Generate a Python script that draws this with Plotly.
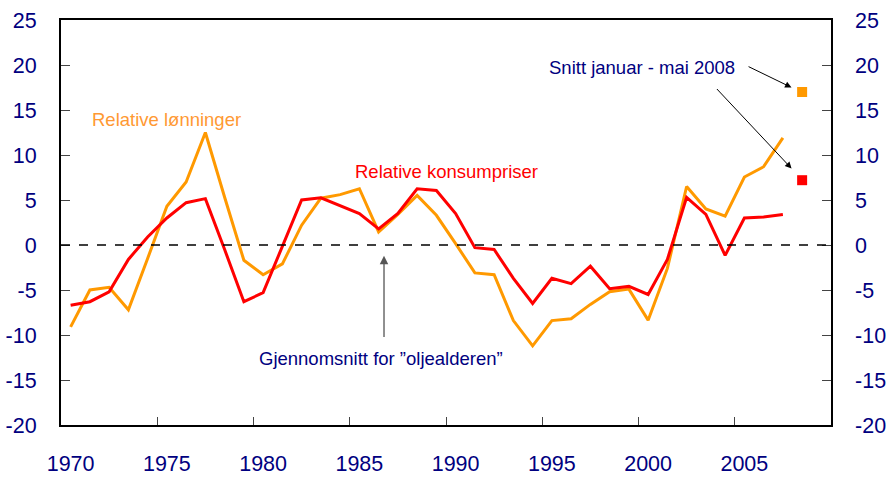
import plotly.graph_objects as go

years = list(range(1970, 2008))
relative_lonninger = [-9.1, -5.0, -4.7, -7.2, -1.5, 4.3, 7.0, 12.5, 5.3, -1.7,
                      -3.3, -2.1, 2.2, 5.2, 5.6, 6.25, 1.45, 3.4, 5.5, 3.3,
                      0.15, -3.1, -3.3, -8.4, -11.2, -8.4, -8.2, -6.6, -5.2, -4.9,
                      -8.35, -2.6, 6.5, 4.0, 3.2, 7.55, 8.7, 11.9]
relative_konsumpriser = [-6.7, -6.3, -5.2, -1.6, 0.9, 3.0, 4.7, 5.15, -0.5, -6.3,
                         -5.3, -0.1, 5.0, 5.25, 4.4, 3.5, 1.8, 3.5, 6.25, 6.05,
                         3.5, -0.3, -0.5, -3.7, -6.5, -3.7, -4.3, -2.35, -4.85, -4.6,
                         -5.5, -1.6, 5.3, 3.4, -1.15, 3.0, 3.1, 3.4]
snitt_year = [2008]
snitt_lonninger = [17.0]
snitt_konsumpriser = [7.2]

x_ticklabels = [1970, 1975, 1980, 1985, 1990, 1995, 2000, 2005]
y_ticks = list(range(-20, 30, 5))
y_ticktext = [str(v) for v in y_ticks]  # plain hyphen minus

ORANGE = "#FF9900"
RED = "#FF0000"
NAVY = "#000080"
FONT = "Liberation Sans, Arial, sans-serif"

fig = go.Figure()
fig.add_trace(go.Scatter(x=years, y=relative_lonninger, mode="lines",
                         line=dict(color=ORANGE, width=3), name="Relative lønninger"))
fig.add_trace(go.Scatter(x=years, y=relative_konsumpriser, mode="lines",
                         line=dict(color=RED, width=3), name="Relative konsumpriser"))
fig.add_trace(go.Scatter(x=snitt_year, y=snitt_lonninger, mode="markers",
                         marker=dict(color=ORANGE, size=10, symbol="square"), showlegend=False))
fig.add_trace(go.Scatter(x=snitt_year, y=snitt_konsumpriser, mode="markers",
                         marker=dict(color=RED, size=10, symbol="square"), showlegend=False))
# invisible trace on right axis
fig.add_trace(go.Scatter(x=[years[0]], y=[0], yaxis="y2", mode="markers",
                         marker=dict(opacity=0), showlegend=False, hoverinfo="skip"))

fig.add_shape(type="line", xref="paper", x0=0, x1=1, yref="y", y0=0, y1=0,
              line=dict(color="black", width=1.3, dash="dash"))

ann_font = dict(family=FONT, size=18.5)
fig.add_annotation(x=1975.0, y=14.0, text="Relative lønninger", showarrow=False,
                   font=dict(**ann_font, color="#FF9933"))
fig.add_annotation(x=1989.5, y=8.2, text="Relative konsumpriser", showarrow=False,
                   font=dict(**ann_font, color=RED))
fig.add_annotation(x=2004.6, y=19.7, text="Snitt januar - mai 2008", showarrow=False,
                   xanchor="right", font=dict(**ann_font, color=NAVY))
fig.add_annotation(x=1986.1, y=-12.6, text="Gjennomsnitt for ”oljealderen”", showarrow=False,
                   font=dict(**ann_font, color=NAVY))

# arrows
fig.add_annotation(x=snitt_year[0] - 0.55, y=snitt_lonninger[0] + 0.5, ax=2005.14, ay=19.9,
                   xref="x", yref="y", axref="x", ayref="y", text="", showarrow=True,
                   arrowhead=2, arrowsize=1.3, arrowwidth=1, arrowcolor="black")
fig.add_annotation(x=snitt_year[0] - 0.55, y=snitt_konsumpriser[0] + 1.3, ax=2003.5, ay=17.5,
                   xref="x", yref="y", axref="x", ayref="y", text="", showarrow=True,
                   arrowhead=2, arrowsize=1.3, arrowwidth=1, arrowcolor="black")
fig.add_annotation(x=1986.28, y=-1.2, ax=1986.28, ay=-10.4,
                   xref="x", yref="y", axref="x", ayref="y", text="", showarrow=True,
                   arrowhead=2, arrowsize=1.3, arrowwidth=1.3, arrowcolor="#555555")

tick_font = dict(family=FONT, size=21.5, color=NAVY)
fig.update_layout(
    width=890, height=477,
    margin=dict(l=61, r=59, t=20, b=52, autoexpand=False),
    paper_bgcolor="white", plot_bgcolor="white",
    showlegend=False,
    xaxis=dict(range=[1969.5, 2009.5], tickmode="array", tickvals=x_ticklabels,
               ticktext=[str(v) for v in x_ticklabels], ticks="", automargin=False,
               tickfont=tick_font, ticklabelstandoff=18,
               showgrid=False, zeroline=False, showline=True, linecolor="black",
               linewidth=1.5, mirror=True,
               minor=dict(tickmode="array", tickvals=[v - 0.5 for v in x_ticklabels[1:]],
                          ticks="inside", ticklen=8, tickcolor="#444444", tickwidth=1,
                          showgrid=False)),
    yaxis=dict(range=[-20, 25], tickmode="array", tickvals=y_ticks, ticktext=y_ticktext,
               ticks="inside", automargin=False,
               ticklen=9, tickcolor="#444444", tickfont=tick_font, ticklabelstandoff=18,
               showgrid=False, zeroline=False, showline=True, linecolor="black", linewidth=2),
    yaxis2=dict(range=[-20, 25], overlaying="y", side="right", tickmode="array",
                tickvals=y_ticks, ticktext=y_ticktext, ticks="inside", ticklen=9,
                tickcolor="#444444", automargin=False,
                tickfont=tick_font, ticklabelstandoff=18, showgrid=False, zeroline=False,
                showline=True, linecolor="black", linewidth=1.5),
)

fig.write_html("out.html", config={"displayModeBar": False},
               post_script="document.body.style.margin='0';document.body.style.overflow='hidden';")
